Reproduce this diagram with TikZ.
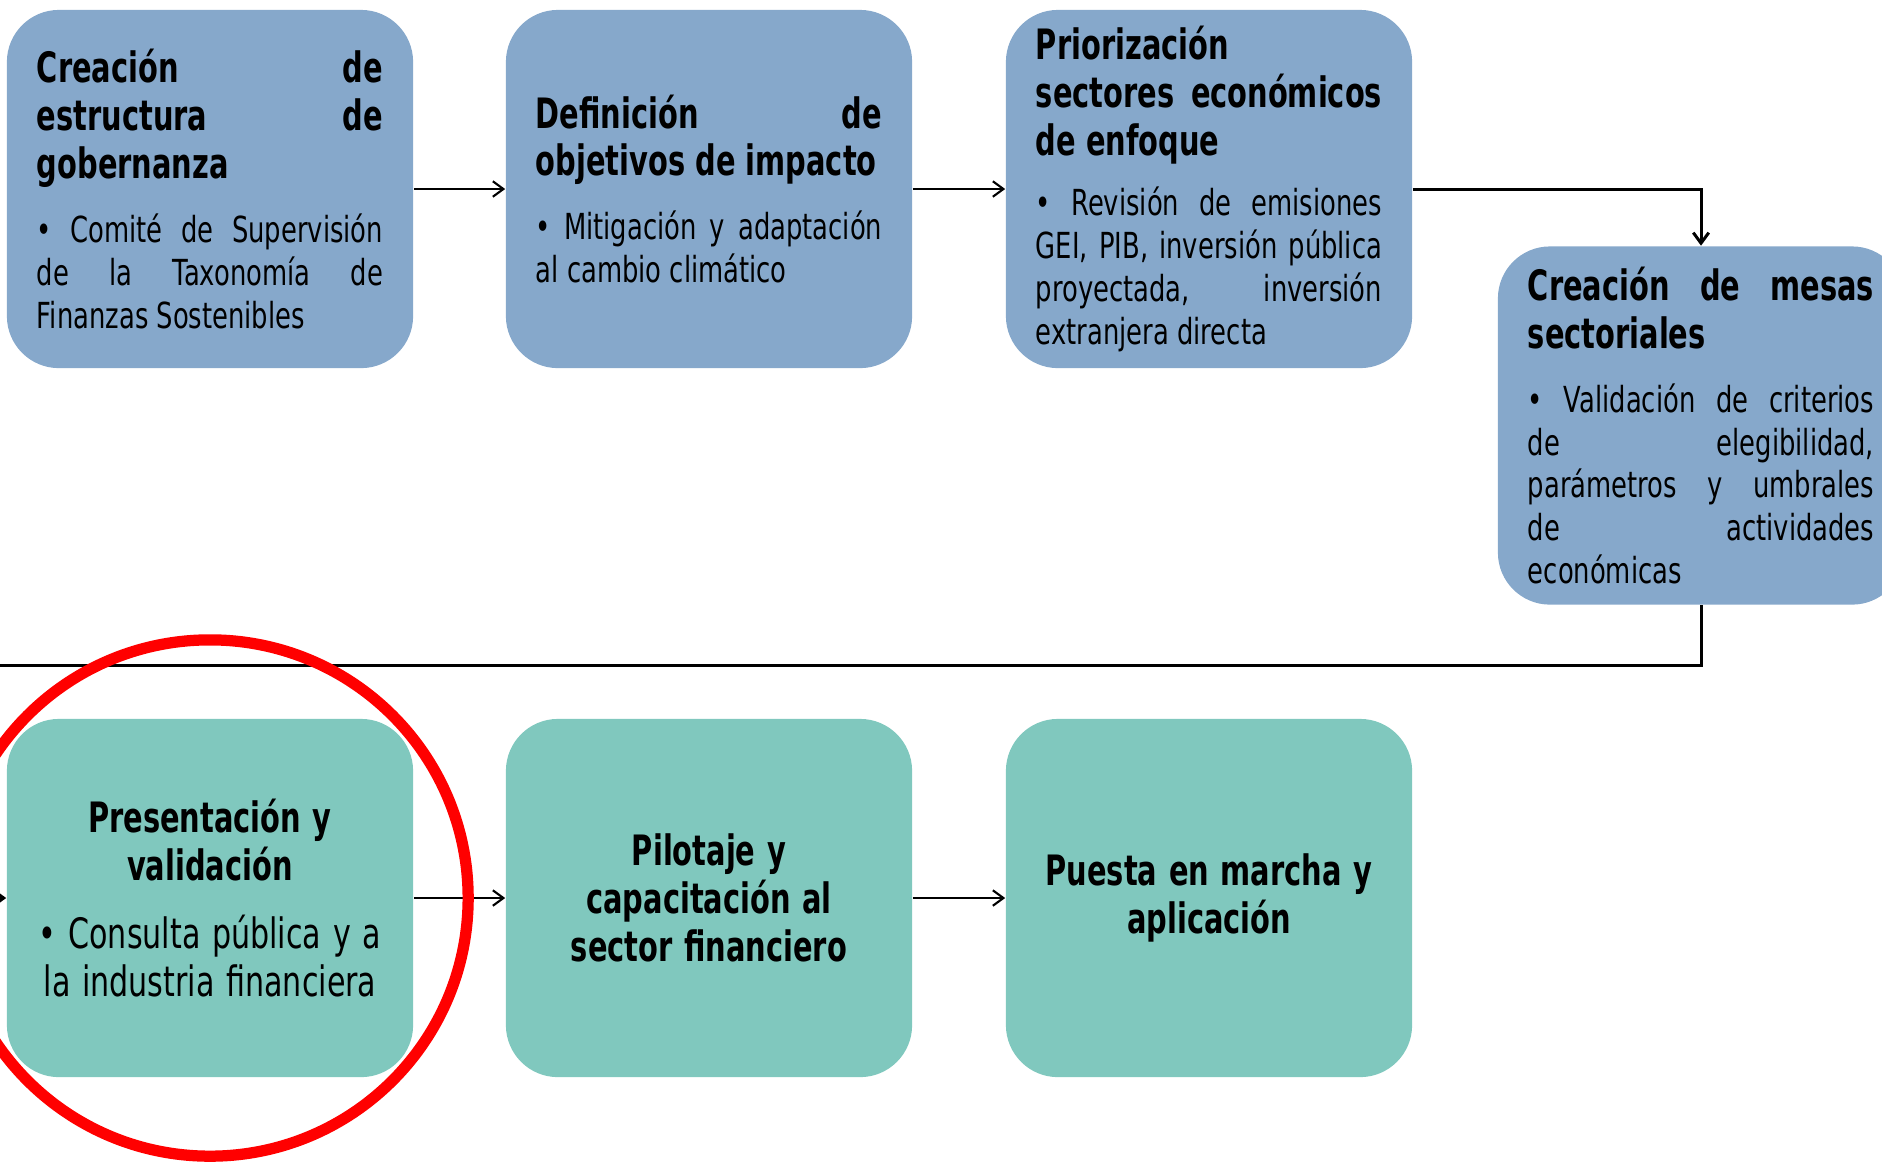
\documentclass[tikz,border=0pt]{standalone}
\usepackage{fontspec}
\usetikzlibrary{arrows.meta,positioning}
\setmainfont{DejaVu Sans}
\newfontfamily\headfont[FakeStretch=0.69]{DejaVu Sans}
\newfontfamily\bodyfont[FakeStretch=0.72]{DejaVu Sans}
\definecolor{govblue}{HTML}{86A8CB}
\definecolor{rollteal}{HTML}{80C8BE}
\definecolor{markred}{HTML}{FF0000}
\newcommand{\ttlfont}{\headfont\bfseries\fontsize{11.9}{13.6}\selectfont}
\newcommand{\bodytext}{\bodyfont\fontsize{10.2}{12.2}\selectfont}
\newcommand{\bodybig}{\bodyfont\fontsize{11.9}{13.6}\selectfont}
\setlength{\parindent}{0pt}
\tolerance=10000 \hyphenpenalty=10000 \hbadness=10000

\begin{document}
\begin{tikzpicture}[x=0.01cm, y=-0.01cm,
  stepbox/.style={rectangle, rounded corners=0.52cm, minimum width=4.06cm,
    minimum height=3.58cm, text width=3.46cm, inner sep=0pt},
  plan/.style={stepbox, fill=govblue, align=justify},
  rollout/.style={stepbox, fill=rollteal, align=center},
  flow/.style={line width=0.6pt, -{Straight Barb[length=3pt,width=4.4pt]}},
  ring/.style={draw=markred, line width=3.2pt},
]
\path[use as bounding box] (0,0) rectangle (1882,1162);

% --- design phase (top row) ---
\node[plan] (gobernanza) at (210,189) {%
  {\ttlfont Creación de\linebreak estructura de\linebreak gobernanza\par}\vspace{6pt}%
  {\bodytext • Comité de Supervisión\linebreak de la Taxonomía de\linebreak Finanzas Sostenibles\par}};
\node[plan] (impacto) at (709,189) {%
  {\ttlfont Definición de\linebreak objetivos de impacto\par}\vspace{6pt}%
  {\bodytext • Mitigación y adaptación\linebreak al cambio climático\par}};
\node[plan] (sectores) at (1209,189) {%
  {\ttlfont Priorización\linebreak sectores económicos\linebreak de enfoque\par}\vspace{5pt}%
  {\bodytext • Revisión de emisiones\linebreak GEI, PIB, inversión pública\linebreak proyectada, inversión\linebreak extranjera directa\par}};
\node[plan] (mesas) at (1701,425.5) {%
  {\ttlfont Creación de mesas\linebreak sectoriales\par}\vspace{6pt}%
  {\bodytext • Validación de criterios\linebreak de elegibilidad,\linebreak parámetros y umbrales\linebreak de actividades\linebreak económicas\par}};

% --- roll-out phase (bottom row) ---
\node[rollout] (validacion) at (210,898) {%
  {\ttlfont Presentación y\\validación\par}\vspace{5.7pt}%
  {\bodybig • Consulta pública y a\\la industria financiera\par}};
\node[rollout] (pilotaje) at (709,898) {%
  {\ttlfont Pilotaje y\\capacitación al\\sector financiero\par}};
\node[rollout] (marcha) at (1209,898) {%
  {\ttlfont Puesta en marcha y\\aplicación\par}};

% connectors
\coordinate (railW) at (-40,665);
\draw[flow] (gobernanza) -- (impacto);
\draw[flow] (impacto) -- (sectores);
\draw[flow, line width=0.85pt] (sectores.east) -| (mesas.north);
\draw[flow, line width=0.85pt] (mesas.south) |- (railW) |- (validacion.west);
\draw[flow] (validacion) -- (pilotaje);
\draw[flow] (pilotaje) -- (marcha);

% highlight
\draw[ring] (validacion.center) circle [radius=2.58cm];

\end{tikzpicture}
\end{document}
